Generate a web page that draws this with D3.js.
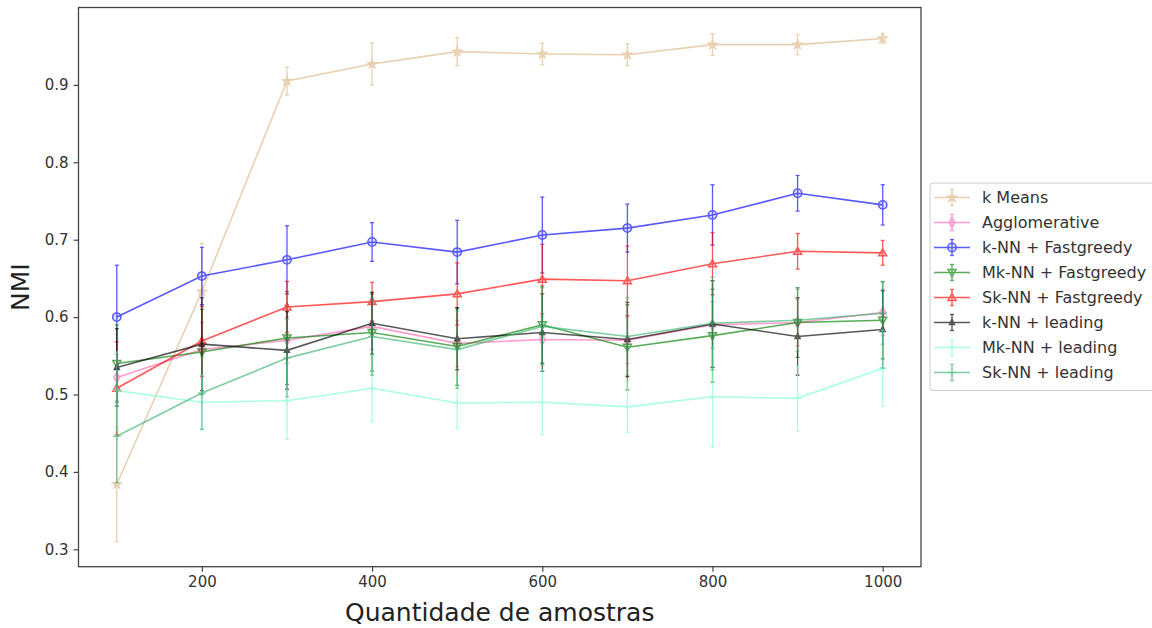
<!DOCTYPE html>
<html>
<head>
<meta charset="utf-8">
<script src="https://cdn.jsdelivr.net/npm/d3@7"></script>
<style>
  body { margin: 0; background: #fff; }
  svg { font-family: "DejaVu Sans", sans-serif; }
</style>
</head>
<body>
<svg width="1152" height="628"></svg>
<script>
var samples = [100, 200, 300, 400, 500, 600, 700, 800, 900, 1000];
var yTicks = [0.3, 0.4, 0.5, 0.6, 0.7, 0.8, 0.9];
var xTicks = [200, 400, 600, 800, 1000];

var seriesNames = ["k Means", "Agglomerative", "k-NN + Fastgreedy", "Mk-NN + Fastgreedy",
    "Sk-NN + Fastgreedy", "k-NN + leading", "Mk-NN + leading", "Sk-NN + leading"];
var seriesColors = ["#deb887", "#ff69b4", "#0000ff", "#008000", "#ff0000", "#000000", "#7fffd4", "#3cb371"];
var seriesMarkers = ["star", "diamond", "circle", "tridown", "triup", "smalltri", "plus", "plus"];

var kMeans = [0.384, 0.633, 0.905, 0.927, 0.943, 0.940, 0.939, 0.952, 0.952, 0.960];
var kMeansErr = [0.074, 0.062, 0.018, 0.027, 0.018, 0.014, 0.014, 0.014, 0.013, 0.006];
var agglo = [0.522, 0.558, 0.570, 0.588, 0.566, 0.571, 0.570, 0.590, 0.593, 0.606];
var aggloErr = [0.03, 0.035, 0.03, 0.03, 0.03, 0.03, 0.03, 0.03, 0.03, 0.03];
var knnFg = [0.600, 0.653, 0.674, 0.697, 0.684, 0.706, 0.715, 0.732, 0.760, 0.745];
var knnFgErr = [0.067, 0.037, 0.044, 0.025, 0.041, 0.049, 0.031, 0.039, 0.023, 0.026];
var mknnFg = [0.540, 0.555, 0.573, 0.580, 0.562, 0.590, 0.561, 0.576, 0.593, 0.596];
var mknnFgErr = [0.05, 0.055, 0.06, 0.05, 0.05, 0.05, 0.055, 0.06, 0.045, 0.05];
var sknnFg = [0.508, 0.569, 0.613, 0.620, 0.630, 0.649, 0.647, 0.669, 0.685, 0.683];
var sknnFgErr = [0.06, 0.045, 0.033, 0.025, 0.04, 0.045, 0.045, 0.04, 0.023, 0.016];
var knnLd = [0.535, 0.565, 0.557, 0.592, 0.572, 0.580, 0.571, 0.591, 0.575, 0.584];
var knnLdErr = [0.05, 0.06, 0.05, 0.04, 0.04, 0.05, 0.048, 0.056, 0.05, 0.05];
var mknnLd = [0.505, 0.490, 0.492, 0.508, 0.489, 0.490, 0.484, 0.497, 0.495, 0.534];
var mknnLdErr = [0.05, 0.035, 0.05, 0.043, 0.033, 0.042, 0.033, 0.065, 0.042, 0.049];
var sknnLd = [0.446, 0.502, 0.547, 0.575, 0.558, 0.588, 0.575, 0.592, 0.596, 0.605];
var sknnLdErr = [0.06, 0.047, 0.05, 0.05, 0.05, 0.05, 0.05, 0.06, 0.04, 0.04];

var allValues = [kMeans, agglo, knnFg, mknnFg, sknnFg, knnLd, mknnLd, sknnLd];
var allErrors = [kMeansErr, aggloErr, knnFgErr, mknnFgErr, sknnFgErr, knnLdErr, mknnLdErr, sknnLdErr];

var series = seriesNames.map(function (name, i) {
    return {
        name: name, color: seriesColors[i], marker: seriesMarkers[i],
        points: samples.map(function (s, j) { return { x: s, y: allValues[i][j], e: allErrors[i][j] }; })
    };
});

var svg = d3.select("svg");
var plotLeft = 78.5, plotRight = 921, plotTop = 7.5, plotBottom = 566.7;

var x = d3.scaleLinear().domain([55, 1045]).range([plotLeft, plotRight]);
var y = d3.scaleLinear().domain([0.2775, 1.0]).range([plotBottom, plotTop]);

// axes
var xAxis = svg.append("g")
    .attr("transform", "translate(0," + plotBottom + ")")
    .call(d3.axisBottom(x).tickValues(xTicks).tickSize(5).tickPadding(5).tickFormat(d3.format("d")));
var yAxis = svg.append("g")
    .attr("transform", "translate(" + plotLeft + ",0)")
    .call(d3.axisLeft(y).tickValues(yTicks).tickSize(5).tickPadding(5).tickFormat(d3.format(".1f")));
[xAxis, yAxis].forEach(function (a) {
    a.select(".domain").remove();
    a.selectAll(".tick line").attr("stroke", "#444").attr("stroke-width", 1.2);
    a.selectAll(".tick text").attr("font-size", 15).attr("font-family", "DejaVu Sans").attr("fill", "#333");
});

svg.append("rect")
    .attr("x", plotLeft).attr("y", plotTop)
    .attr("width", plotRight - plotLeft).attr("height", plotBottom - plotTop)
    .attr("fill", "none").attr("stroke", "#444").attr("stroke-width", 1.3);

var line = d3.line()
    .x(function (d) { return x(d.x); })
    .y(function (d) { return y(d.y); });

function markerPath(type) {
    if (type == "star") return d3.symbol().type(d3.symbolStar).size(22)();
    if (type == "diamond") return "M0,-5L3,0L0,5L-3,0Z";
    if (type == "circle") return d3.symbol().type(d3.symbolCircle).size(55)();
    if (type == "tridown") return "M-4,-3L4,-3L0,4Z";
    if (type == "triup") return "M-4,3L4,3L0,-4Z";
    if (type == "smalltri") return "M-2.5,2L2.5,2L0,-3Z";
    return "M-4,0L4,0M0,-4L0,4";
}

function drawMarker(g, s) {
    g.append("path")
        .attr("d", markerPath(s.marker))
        .attr("fill", s.marker == "plus" ? "none" : s.color)
        .attr("fill-opacity", s.marker == "smalltri" ? 1 : 0.2)
        .attr("stroke", s.color)
        .attr("stroke-width", 1.5);
}

var plot = svg.append("g");

series.forEach(function (s) {
    var g = plot.append("g").attr("opacity", 0.65);

    var bars = g.selectAll(".err")
        .data(s.points)
        .enter().append("g");
    bars.append("line")
        .attr("x1", function (d) { return x(d.x); })
        .attr("x2", function (d) { return x(d.x); })
        .attr("y1", function (d) { return y(d.y - d.e); })
        .attr("y2", function (d) { return y(d.y + d.e); })
        .attr("stroke", s.color).attr("stroke-width", 1.3);
    [-1, 1].forEach(function (sign) {
        bars.append("line")
            .attr("x1", function (d) { return x(d.x) - 2; })
            .attr("x2", function (d) { return x(d.x) + 2; })
            .attr("y1", function (d) { return y(d.y + sign * d.e); })
            .attr("y2", function (d) { return y(d.y + sign * d.e); })
            .attr("stroke", s.color).attr("stroke-width", 1.3);
    });

    g.append("path")
        .datum(s.points)
        .attr("d", line)
        .attr("fill", "none")
        .attr("stroke", s.color)
        .attr("stroke-width", 1.6);

    s.points.forEach(function (d) {
        var m = g.append("g").attr("transform", "translate(" + x(d.x) + "," + y(d.y) + ")");
        drawMarker(m, s);
    });
});

// axis labels
svg.append("text")
    .attr("x", (plotLeft + plotRight) / 2).attr("y", 621)
    .attr("text-anchor", "middle")
    .attr("font-size", 25).attr("fill", "#222")
    .text("Quantidade de amostras");
svg.append("text")
    .attr("transform", "translate(29," + ((plotTop + plotBottom) / 2) + ") rotate(-90)")
    .attr("text-anchor", "middle")
    .attr("font-size", 25).attr("fill", "#222")
    .text("NMI");

// legend
var legend = svg.append("g");
legend.append("rect")
    .attr("x", 930).attr("y", 183)
    .attr("width", 240).attr("height", 207.5)
    .attr("rx", 3)
    .attr("fill", "#fff").attr("stroke", "#ccc").attr("stroke-width", 1);

series.forEach(function (s, i) {
    var row = legend.append("g")
        .attr("transform", "translate(952," + (197.5 + i * 25) + ")")
        .attr("opacity", 0.65);
    row.append("line").attr("x1", -18).attr("x2", 18).attr("stroke", s.color).attr("stroke-width", 1.6);
    row.append("line").attr("y1", -8).attr("y2", 8).attr("stroke", s.color).attr("stroke-width", 1.3);
    row.append("line").attr("x1", -2).attr("x2", 2).attr("y1", -8).attr("y2", -8).attr("stroke", s.color).attr("stroke-width", 1.3);
    row.append("line").attr("x1", -2).attr("x2", 2).attr("y1", 8).attr("y2", 8).attr("stroke", s.color).attr("stroke-width", 1.3);
    drawMarker(row, s);
    legend.append("text")
        .attr("x", 982).attr("y", 197.5 + i * 25)
        .attr("dy", "0.35em")
        .attr("font-size", 16).attr("fill", "#333")
        .text(s.name);
});
</script>
</body>
</html>
